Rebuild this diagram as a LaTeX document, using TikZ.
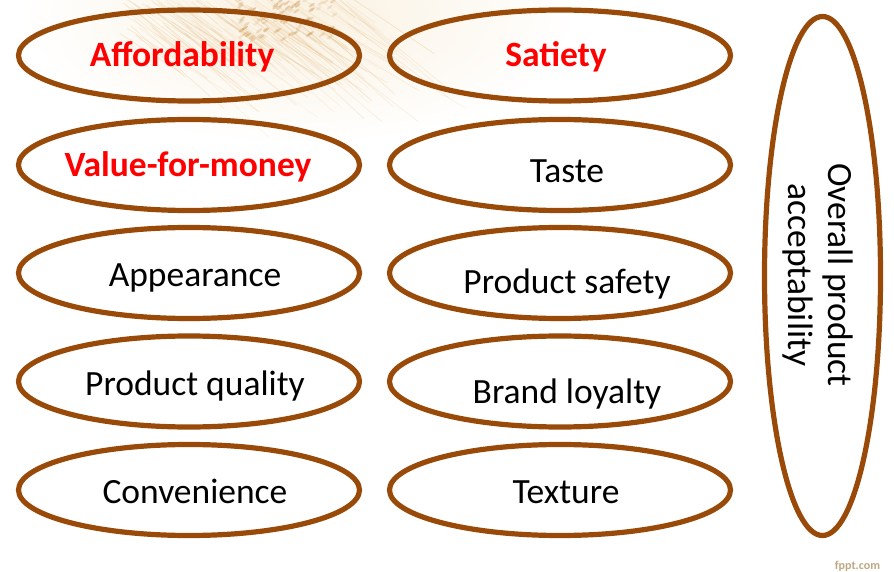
\documentclass[tikz,border=0pt]{standalone}
\usepackage{fontspec}
\setmainfont{Carlito}
\usetikzlibrary{shapes.geometric}

\definecolor{rim}{RGB}{154,74,8}
\definecolor{hotred}{RGB}{255,0,0}
\definecolor{straw}{RGB}{226,180,110}
\definecolor{grain}{RGB}{200,140,64}
\definecolor{cream}{RGB}{250,241,225}
\definecolor{marktext}{RGB}{190,168,132}

\tikzset{
  oval/.style={ellipse, draw=rim, line width=5.2pt, inner sep=0pt,
               minimum width=341pt, minimum height=91pt},
  bigoval/.style={ellipse, draw=rim, line width=5.2pt, inner sep=0pt,
                  minimum width=116pt, minimum height=519pt},
  lbl/.style={font=\fontsize{35.5}{40}\selectfont, anchor=base, inner sep=0pt},
  hot/.style={font=\fontsize{35.5}{40}\selectfont\bfseries, text=hotred,
              anchor=base, inner sep=0pt},
}

\begin{document}
\begin{tikzpicture}[x=1pt,y=-1pt]
  \useasboundingbox (0,0) rectangle (894,572);
  \fill[white] (0,0) rectangle (894,572);

  % soft wheat backdrop along the top edge
  \begin{scope}
    \clip (0,0) rectangle (894,572);
    \shade[inner color=cream, outer color=white]
      (300,15) ellipse [x radius=280, y radius=130];
    \pgfmathsetseed{11}
    \foreach \i in {1,...,140}{
      \pgfmathsetmacro{\sx}{120+rnd*230}
      \pgfmathsetmacro{\sy}{-10+rnd*50}
      \pgfmathsetmacro{\len}{30+rnd*120}
      \pgfmathsetmacro{\ang}{30+rnd*14}
      \pgfmathsetmacro{\op}{0.08+rnd*0.22}
      \draw[straw, line width=0.7pt, opacity=\op, line cap=round]
        (\sx,\sy) -- ++(\ang:\len);
    }
    \foreach \i in {1,...,90}{
      \pgfmathsetmacro{\gx}{240+rnd*95}
      \pgfmathsetmacro{\gy}{-4+rnd*44}
      \pgfmathsetmacro{\op}{0.12+rnd*0.3}
      \fill[grain, opacity=\op, rotate around={35:(\gx,\gy)}]
        (\gx,\gy) ellipse [x radius=3.5, y radius=1.3];
    }
  \end{scope}

  % left column
  \node[oval] (afford) at (189,55.5) {};
  \node[oval] (value)  at (189,165)  {};
  \node[oval] (appear) at (189,273)  {};
  \node[oval] (qual)   at (189,381.5){};
  \node[oval] (conv)   at (189,490)  {};

  % right column
  \node[oval] (sati)   at (560,55.5) {};
  \node[oval] (taste)  at (560,165)  {};
  \node[oval] (safe)   at (560,273)  {};
  \node[oval] (brand)  at (560,381.5){};
  \node[oval] (text)   at (560,490)  {};

  % overall acceptability
  \node[bigoval] (overall) at (822.5,276) {};

  % labels
  \node[hot] (tafford) at (182,67)  {Affordability};
  \node[hot] (tvalue)  at (188,177) {Value-for-money};
  \node[lbl] (tappear) at (195,286) {Appearance};
  \node[lbl] (tqual)   at (195,395) {Product quality};
  \node[lbl] (tconv)   at (195,503) {Convenience};

  \node[hot] (tsati)   at (556,67)  {Satiety};
  \node[lbl] (ttaste)  at (567,183) {Taste};
  \node[lbl] (tsafe)   at (567,293) {Product safety};
  \node[lbl] (tbrand)  at (567,403) {Brand loyalty};
  \node[lbl] (ttext)   at (566,503) {Texture};

  \node[font=\fontsize{35.5}{40}\selectfont, align=center, rotate=-90,
        inner sep=0pt] (toverall) at (817.5,275)
        {Overall product\\acceptability};

  \node[font=\fontsize{12}{14}\selectfont\bfseries, text=marktext,
        anchor=base, inner sep=0pt] (mark) at (857.5,569) {fppt.com};
\end{tikzpicture}
\end{document}
